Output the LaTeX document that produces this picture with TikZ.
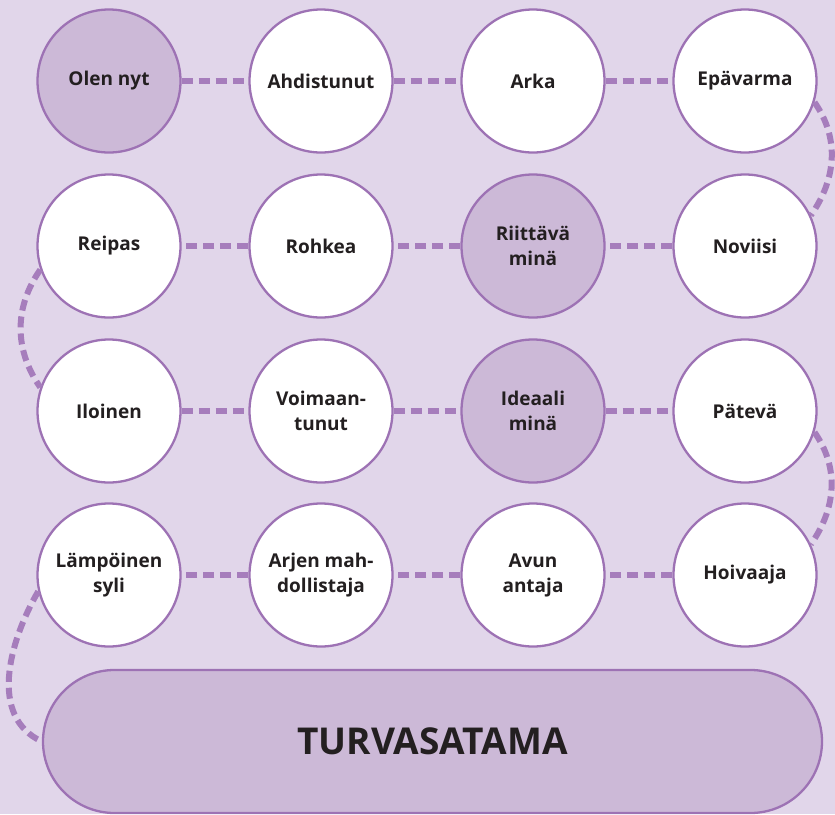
\documentclass[tikz,border=0pt]{standalone}
\usepackage{fontspec}
\setmainfont{Open Sans}
\definecolor{bgpurple}{RGB}{225,214,234}
\definecolor{fillpurple}{RGB}{204,185,215}
\definecolor{linepurple}{RGB}{157,114,180}
\definecolor{dashpurple}{RGB}{166,125,188}
\definecolor{textdark}{RGB}{35,31,32}

\begin{document}
\begin{tikzpicture}[x=1pt,y=-1pt,
  stop/.style={circle, draw=linepurple, line width=2.3pt, fill=white, minimum size=143pt, inner sep=0pt,
    align=center, text=textdark, font=\bfseries\fontsize{19}{25}\selectfont},
  self/.style={stop, fill=fillpurple},
  path/.style={dashpurple, line width=6pt, dash pattern=on 11pt off 6pt},
  harbour/.style={draw=linepurple, line width=2.3pt, fill=fillpurple, rounded corners=71.5pt,
    minimum width=779pt, minimum height=143pt, inner sep=0pt, text=textdark, font=\bfseries\fontsize{37}{44}\selectfont}]
  \fill[bgpurple] (0,0) rectangle (835,814);
  \useasboundingbox (0,0) rectangle (835,814);
   % row 1
   \node[self] (olen) at (109,81) {Olen nyt};
   \node[stop] (ahdis) at (321,81) {Ahdistunut};
   \node[stop] (arka) at (533,81) {Arka};
   \node[stop] (epav) at (745,81) {Epävarma};
   % row 2
   \node[stop] (reipas) at (109,246) {Reipas};
   \node[stop] (rohkea) at (321,246) {Rohkea};
   \node[self] (riitt) at (533,246) {Riittävä\\minä};
   \node[stop] (novi) at (745,246) {Noviisi};
   % row 3
   \node[stop] (iloi) at (109,411) {Iloinen};
   \node[stop] (voima) at (321,411) {Voimaan-\\tunut};
   \node[self] (ideaali) at (533,411) {Ideaali\\minä};
   \node[stop] (pate) at (745,411) {Pätevä};
   % row 4
   \node[stop] (lampo) at (109,575) {Lämpöinen\\syli};
   \node[stop] (arjen) at (321,575) {Arjen mah-\\dollistaja};
   \node[stop] (avun) at (533,575) {Avun\\antaja};
   \node[stop] (hoiva) at (745,575) {Hoivaaja};
   \node[harbour] (turva) at (432.5,741.5) {TURVASATAMA};
    % the winding path
    \draw[path] (olen) -- (ahdis);
    \draw[path] (ahdis) -- (arka);
    \draw[path] (arka) -- (epav);
    \draw[path] (epav.-17) to[out=-55,in=55] (novi.25);
    \draw[path] (novi) -- (riitt);
    \draw[path] (riitt) -- (rohkea);
    \draw[path] (rohkea) -- (reipas);
    \draw[path] (reipas.199) to[out=235,in=125] (iloi.161);
    \draw[path] (iloi) -- (voima);
    \draw[path] (voima) -- (ideaali);
    \draw[path] (ideaali) -- (pate);
    \draw[path] (pate.-17) to[out=-55,in=55] (hoiva.25);
    \draw[path] (hoiva) -- (avun);
    \draw[path] (avun) -- (arjen);
    \draw[path] (arjen) -- (lampo);
    \draw[path] (lampo.193) to[out=240,in=155] (turva.west);
\end{tikzpicture}
\end{document}
